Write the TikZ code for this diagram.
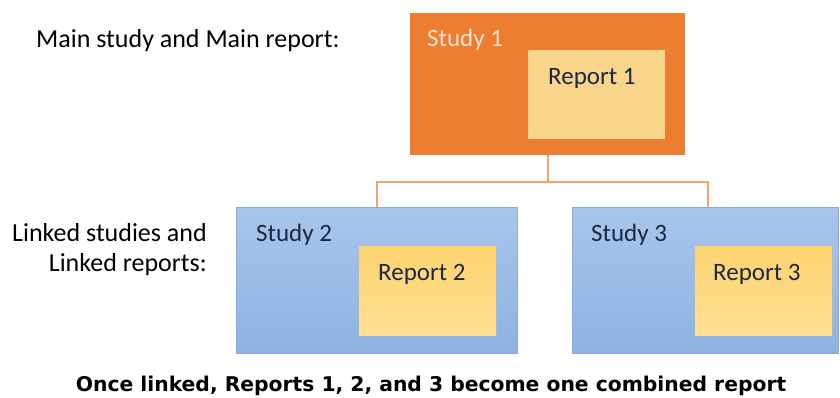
\documentclass[tikz,border=0pt]{standalone}
\usepackage{fontspec}
\setmainfont{Carlito}
\newfontfamily\legendefont{DejaVu Sans}
\definecolor{orangeEtude}{HTML}{ED7D31}
\definecolor{orangeLien}{HTML}{F2A46E}
\definecolor{jauneRapport}{HTML}{F9D58C}
\definecolor{jauneHaut}{HTML}{FDD36F}
\definecolor{jauneBas}{HTML}{FFDF93}
\definecolor{bleuHaut}{HTML}{A8C5EC}
\definecolor{bleuBas}{HTML}{8DB3E2}
\definecolor{bleuBord}{HTML}{8AABD6}
\definecolor{texteClair}{HTML}{FBE3D0}
\definecolor{texteFonce}{HTML}{1C2740}
\begin{document}
\begin{tikzpicture}[x=1pt,y=-1pt]
% Styles
\tikzstyle{principale}=[fill=orangeEtude,inner sep=0pt,anchor=north west]
\tikzstyle{liee}=[top color=bleuHaut,bottom color=bleuBas,draw=bleuBord,line width=0.8pt,inner sep=0pt,anchor=north west]
\tikzstyle{rapport}=[fill=jauneRapport,inner sep=0pt,anchor=north west]
\tikzstyle{rapportlie}=[top color=jauneHaut,bottom color=jauneBas,inner sep=0pt,anchor=north west]
\tikzstyle{texte}=[inner sep=0pt,anchor=base west,font=\fontsize{25}{30}\selectfont]
\tikzstyle{titre}=[inner sep=0pt,font=\fontsize{26}{31}\selectfont]
\tikzstyle{lien}=[draw=orangeLien,line width=2pt]
\useasboundingbox (0,0) rectangle (840,397);
% Dimensions
\def\LargeurEtude{275}
\def\HauteurEtude{142}
\def\LargeurRapport{137}
\def\HauteurRapport{89}
% Noeuds
\node[principale,minimum width=\LargeurEtude,minimum height=\HauteurEtude] (S1) at (410,13) {};
\node[rapport,minimum width=\LargeurRapport,minimum height=\HauteurRapport] (R1) at (528,50) {};
\node[liee,minimum width=281,minimum height=146] (S2) at (236,207) {};
\node[rapportlie,minimum width=\LargeurRapport,minimum height=\HauteurRapport] (R2) at (359,246) {};
\node[liee,minimum width=266,minimum height=146] (S3) at (572,207) {};
\node[rapportlie,minimum width=\LargeurRapport,minimum height=\HauteurRapport] (R3) at (695,246) {};
% Textes
\node[texte,text=texteClair] (tS1) at (427,46) {Study 1};
\node[texte,text=texteFonce] (tR1) at ([shift={(20,34)}]R1.north west) {Report 1};
\node[texte,text=texteFonce] (tS2) at (256,241) {Study 2};
\node[texte,text=texteFonce] (tR2) at ([shift={(19,34)}]R2.north west) {Report 2};
\node[texte,text=texteFonce] (tS3) at (591,241) {Study 3};
\node[texte,text=texteFonce] (tR3) at ([shift={(18,34)}]R3.north west) {Report 3};
\node[titre,anchor=base west] (tPrincipal) at (36,47) {Main study and Main report:};
\node[titre,anchor=base east] (tLie1) at (207,241) {Linked studies and};
\node[titre,anchor=base east] (tLie2) at (207,271) {Linked reports:};
\node[inner sep=0pt,anchor=base,font=\legendefont\bfseries\fontsize{20.3}{24}\selectfont] (legende) at (431,391) {Once linked, Reports 1, 2, and 3 become one combined report};
% Liens
\coordinate (M) at (S1.south |- 0,182);
\draw[lien] (S1.south) -- (M);
\draw[lien] (S2.north -| 377,0) |- (M);
\draw[lien] (S3.north -| 708,0) |- (M);
\end{tikzpicture}
\end{document}
